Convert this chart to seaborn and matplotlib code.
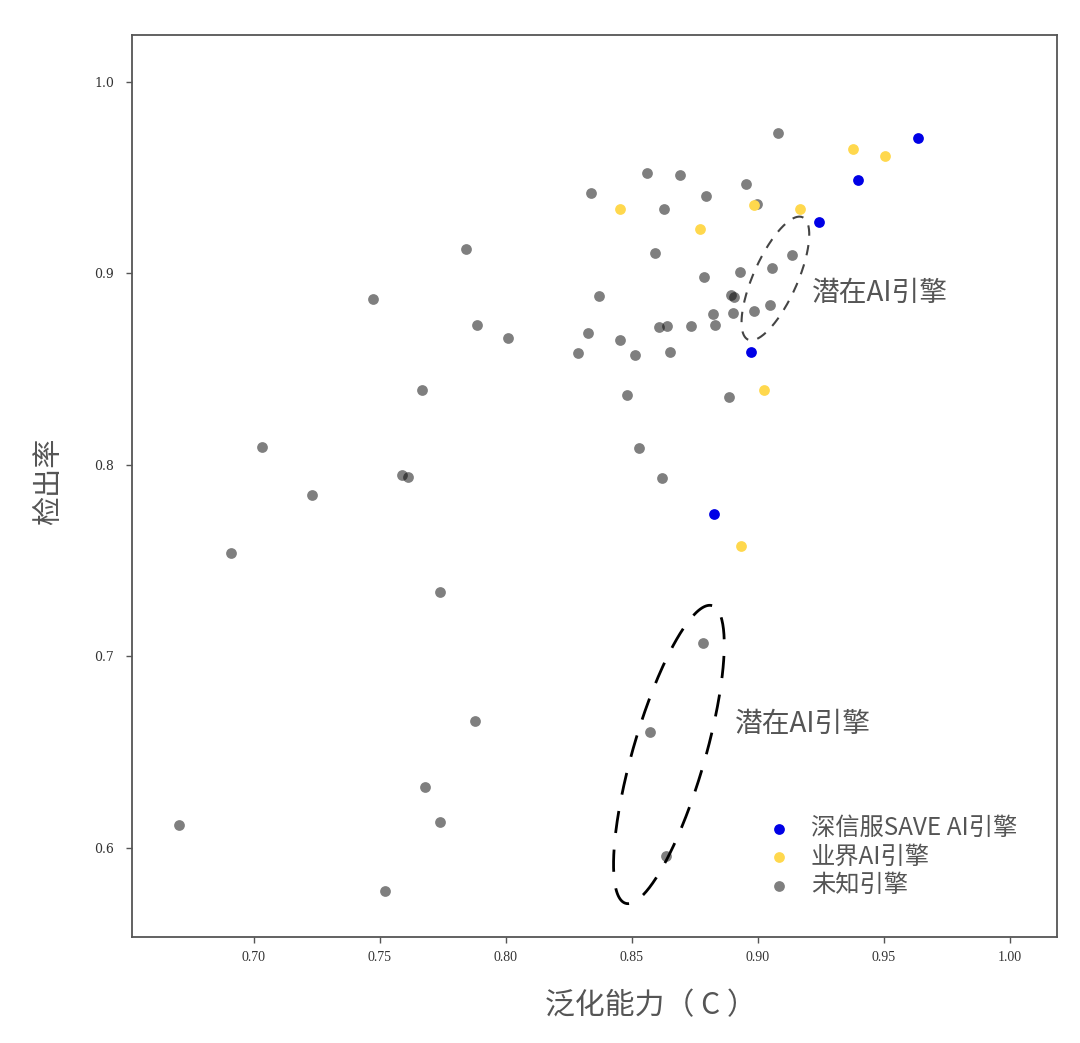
import numpy as np
import pandas as pd
import matplotlib
matplotlib.use('Agg')
import matplotlib.pyplot as plt
import seaborn as sns

# 深信服 SAVE AI 引擎
save_x = [0.9635, 0.9397, 0.9242, 0.8972, 0.8825]
save_y = [0.9708, 0.9488, 0.9269, 0.8590, 0.7744]

# 业界 AI 引擎
industry_x = [0.9377, 0.9504, 0.8452, 0.8770, 0.8984, 0.9167, 0.9024, 0.8933]
industry_y = [0.9650, 0.9614, 0.9337, 0.9232, 0.9358, 0.9337, 0.8392, 0.7577]

# 未知引擎
unknown_x = [0.9079, 0.8560, 0.8690, 0.8952, 0.8337, 0.8794, 0.8627, 0.8996,
             0.8591, 0.9135, 0.9056, 0.8929, 0.8786, 0.8369, 0.8893, 0.8905,
             0.8821, 0.8901, 0.8984, 0.9048, 0.8325, 0.8607, 0.8639, 0.8734,
             0.8829, 0.8452, 0.8286, 0.8512, 0.8651, 0.8480, 0.8885, 0.8528,
             0.8619, 0.7841, 0.7472, 0.7885, 0.8008, 0.7667, 0.7032, 0.7587,
             0.7611, 0.7230, 0.6909, 0.7738, 0.7877, 0.7679, 0.7738, 0.6702,
             0.7520, 0.8782, 0.8571, 0.8635]
unknown_y = [0.9734, 0.9525, 0.9514, 0.9467, 0.9420, 0.9405, 0.9337, 0.9363,
             0.9107, 0.9097, 0.9029, 0.9008, 0.8982, 0.8883, 0.8888, 0.8877,
             0.8789, 0.8794, 0.8804, 0.8836, 0.8689, 0.8721, 0.8726, 0.8726,
             0.8731, 0.8653, 0.8585, 0.8574, 0.8590, 0.8366, 0.8355, 0.8089,
             0.7932, 0.9128, 0.8867, 0.8731, 0.8663, 0.8392, 0.8094, 0.7948,
             0.7937, 0.7843, 0.7540, 0.7337, 0.6663, 0.6319, 0.6136, 0.6120,
             0.5775, 0.7070, 0.6606, 0.5958]

labels = ['深信服SAVE AI引擎', '业界AI引擎', '未知引擎']
x_ticks = [0.70, 0.75, 0.80, 0.85, 0.90, 0.95, 1.00]
y_ticks = [0.6, 0.7, 0.8, 0.9, 1.0]

sns.set_style('ticks')
plt.rcParams['font.family'] = ['Noto Sans CJK SC', 'DejaVu Sans']

df = pd.concat([
    pd.DataFrame({'x': unknown_x, 'y': unknown_y, 'kind': labels[2]}),
    pd.DataFrame({'x': industry_x, 'y': industry_y, 'kind': labels[1]}),
    pd.DataFrame({'x': save_x, 'y': save_y, 'kind': labels[0]}),
])

fig = plt.figure(figsize=(10.8, 10.43), dpi=100)
ax = fig.add_axes([0.1222, 0.1016, 0.8565, 0.8648])

styles = {labels[2]: ('black', 0.5), labels[1]: ('#ffd84d', 1.0), labels[0]: ('#0000e6', 1.0)}
for kind in [labels[2], labels[1], labels[0]]:
    color, alpha = styles[kind]
    sns.scatterplot(data=df[df['kind'] == kind], x='x', y='y', color=color,
                    alpha=alpha, s=60, linewidth=0, ax=ax, label=kind)

ax.set_xlim(0.6516, 1.0187)
ax.set_ylim(0.5535, 1.0245)
ax.set_xticks(x_ticks)
ax.set_xticklabels([f'{t:.2f}' for t in x_ticks], family='Liberation Serif', fontsize=10, color='#333333')
ax.set_yticks(y_ticks)
ax.set_yticklabels([f'{t:.1f}' for t in y_ticks], family='DejaVu Serif', fontsize=9, color='#333333')
ax.tick_params(axis='both', direction='out', length=4, width=1, color='#555555')
ax.tick_params(axis='y', pad=9)
ax.tick_params(axis='x', pad=6)
for sp in ax.spines.values():
    sp.set_visible(True)
    sp.set_color('#555555')
    sp.set_linewidth(1.3)

ax.set_xlabel('泛化能力（ C ）', fontsize=21.5, color='#555555')
ax.set_ylabel('检出率', fontsize=21, color='#555555')
ax.xaxis.set_label_coords(0.561, -0.059)
ax.yaxis.set_label_coords(-0.073, 0.5055)

# dashed ellipses, sized in pixels so rotation isn't distorted by axis scales
px_x = 2520.0
px_y = 1915.0
def ellipse(cx, cy, a, b, ang, **kw):
    t = np.linspace(0, 2 * np.pi, 300)
    th = np.radians(ang)
    ex = a * np.cos(t) * np.cos(th) - b * np.sin(t) * np.sin(th)
    ey = a * np.cos(t) * np.sin(th) + b * np.sin(t) * np.cos(th)
    ax.plot(cx + ex / px_x, cy + ey / px_y, **kw)

ellipse(0.70 + (775.5 - 254) / px_x, 1 - (278.5 - 82) / px_y, 67, 22, 66,
        color='#444444', lw=1.5, dashes=(5, 4.5))
ellipse(0.70 + (669 - 254) / px_x, 1 - (754.5 - 82) / px_y, 155, 36, 73.8,
        color='black', lw=2.0, dashes=(8, 6))

ax.text(0.70 + (812 - 254) / px_x, 1 - (293 - 82) / px_y, '潜在AI引擎',
        fontsize=20, color='#555555', va='center', ha='left')
ax.text(0.70 + (735 - 254) / px_x, 1 - (724 - 82) / px_y, '潜在AI引擎',
        fontsize=20, color='#555555', va='center', ha='left')

handles, labs = ax.get_legend_handles_labels()
order = [labs.index(l) for l in labels]
ax.legend([handles[i] for i in order], [labs[i] for i in order],
          loc='upper left', bbox_to_anchor=(0.663, 0.146), frameon=False,
          fontsize=17.5, labelspacing=0.1, handletextpad=0.3, markerscale=1.0,
          labelcolor='#555555', borderaxespad=0)

fig.savefig('out.png', dpi=100, facecolor='white')
